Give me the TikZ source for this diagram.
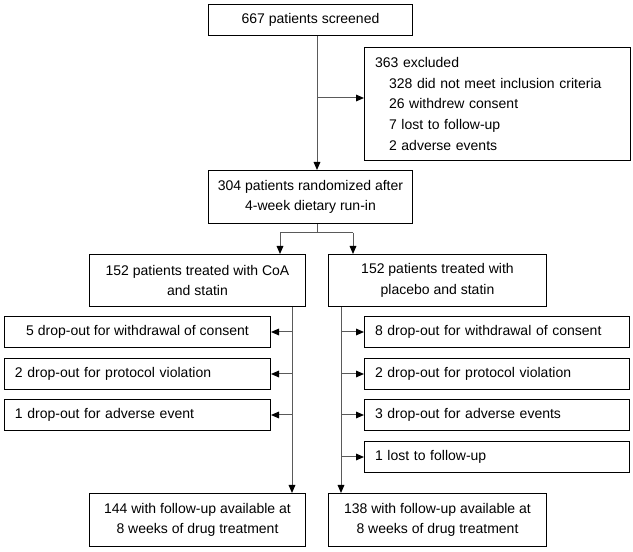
\documentclass[tikz,border=0pt]{standalone}
\usepackage{fontspec}
\setmainfont{Liberation Sans}
\usetikzlibrary{arrows.meta}

\tikzset{every picture/.style={line width=0.75pt}}
\tikzset{
  box/.style 2 args={draw, inner sep=0pt, anchor=north west, align=center,
    minimum width={#1*0.75pt}, minimum height={#2*0.75pt},
    font=\fontsize{10.5}{15.5}\selectfont},
  lbox/.style 2 args={box={#1}{#2}, align=left, text width={(#1-21)*0.75pt}},
  link/.style={draw={rgb, 255:red, 90; green, 90; blue, 90}},
  conn/.style={link, -{Triangle[length=6pt, width=5pt, color=black]}}
}

\begin{document}
\begin{tikzpicture}[x=0.75pt,y=0.75pt,yscale=-1,xscale=1]
\useasboundingbox (0,0) rectangle (633,552);

% Text Node
\node[box={204}{31}] (screen) at (208,4) {667 patients screened};
% Text Node
\node[lbox={266}{113}] (excl) at (364,47) {363 excluded\\
  \hspace*{1em}328 did not meet inclusion criteria\\
  \hspace*{1em}26 withdrew consent\\
  \hspace*{1em}7 lost to follow-up\\
  \hspace*{1em}2 adverse events};
% Text Node
\node[box={204}{53}] (rand) at (208,170) {304 patients randomized after\\4-week dietary run-in};
% Text Node
\node[box={216}{52}] (treatA) at (89,254) {152 patients treated with CoA\\and statin};
\node[box={218}{52}] (treatB) at (328,254) {152 patients treated with\\placebo and statin};
% Text Node
\node[box={266}{31}] (dropA1) at (4,316) {5 drop-out for withdrawal of consent};
\node[lbox={266}{31}] (dropA2) at (4,358) {2 drop-out for protocol violation};
\node[lbox={266}{31}] (dropA3) at (4,399) {1 drop-out for adverse event};
% Text Node
\node[lbox={265}{31}] (dropB1) at (364,316) {8 drop-out for withdrawal of consent};
\node[lbox={265}{31}] (dropB2) at (364,358) {2 drop-out for protocol violation};
\node[lbox={265}{31}] (dropB3) at (364,399) {3 drop-out for adverse events};
\node[lbox={265}{31}] (dropB4) at (364,441) {1 lost to follow-up};
% Text Node
\node[box={216}{53}] (followA) at (89,493) {144 with follow-up available at\\8 weeks of drug treatment};
\node[box={218}{53}] (followB) at (328,493) {138 with follow-up available at\\8 weeks of drug treatment};

%Straight Lines
\coordinate (stem) at (317,98);
\draw[conn] (screen.south -| stem) -- (rand.north -| stem);
\draw[conn] (stem) -- (stem -| excl.west);

%Straight Lines
\coordinate (split) at (317,233);
\coordinate (splitA) at (280,233);
\coordinate (splitB) at (353,233);
\draw[link] (rand.south -| split) -- (split);
\draw[link] (splitA) -- (splitB);
\draw[conn] (splitA) -- (splitA |- treatA.north);
\draw[conn] (splitB) -- (splitB |- treatB.north);

%Straight Lines
\coordinate (trunkA) at (292,0);
\coordinate (trunkB) at (341,0);
\draw[conn] (treatA.south -| trunkA) -- (followA.north -| trunkA);
\draw[conn] (treatB.south -| trunkB) -- (followB.north -| trunkB);
\foreach \n in {1,2,3}
  \draw[conn] (dropA\n.east -| trunkA) -- (dropA\n.east);
\foreach \n in {1,...,4}
  \draw[conn] (dropB\n.west -| trunkB) -- (dropB\n.west);

\end{tikzpicture}
\end{document}
